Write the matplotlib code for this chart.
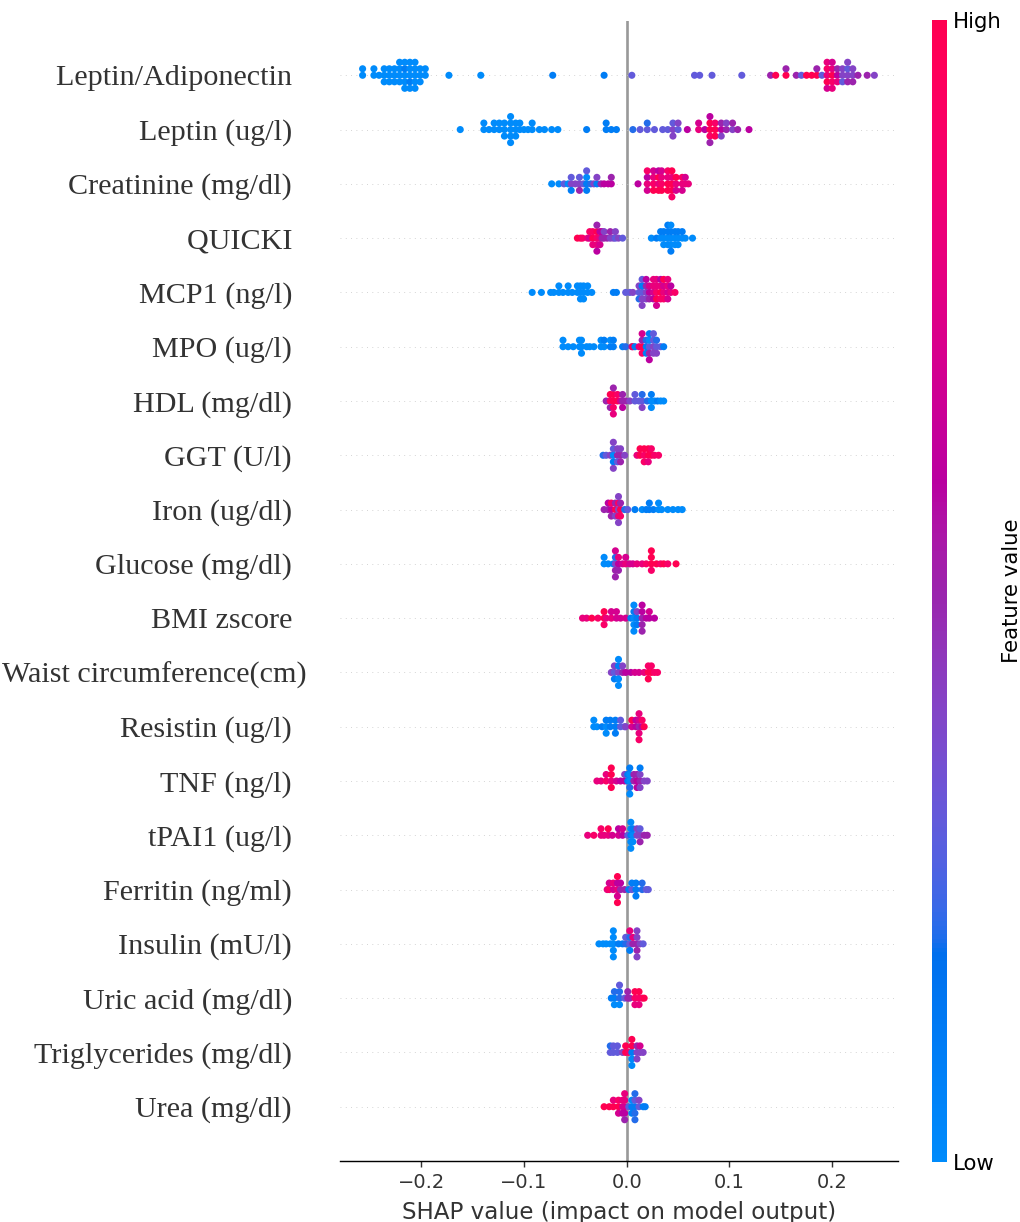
import numpy as np
import matplotlib
matplotlib.use("Agg")
import matplotlib.pyplot as plt
from matplotlib.colors import LinearSegmentedColormap

# feature names, top row first
features = [
    "Leptin/Adiponectin  ", "Leptin (ug/l)  ", "Creatinine (mg/dl)  ", "QUICKI  ",
    "MCP1 (ng/l)  ", "MPO (ug/l)  ", "HDL (mg/dl)  ", "GGT (U/l)  ", "Iron (ug/dl)  ",
    "Glucose (mg/dl)  ", "BMI zscore  ", "Waist circumference(cm)", "Resistin (ug/l)  ",
    "TNF (ng/l)  ", "tPAI1 (ug/l)  ", "Ferritin (ng/ml)  ", "Insulin (mU/l)  ",
    "Uric acid (mg/dl)  ", "Triglycerides (mg/dl)  ", "Urea (mg/dl)  ",
]

# (SHAP value x1000, feature value x10), one list per feature
leptin_adipo = [
    (-257, 0), (-257, 0), (-246, 0), (-246, 0), (-241, 0),
    (-236, 0), (-236, 0), (-236, 0), (-231, 0), (-231, 0), (-231, 0),
    (-226, 0), (-226, 0), (-226, 0), (-221, 0), (-221, 0), (-221, 0), (-221, 0),
    (-216, 0), (-216, 1), (-216, 0), (-216, 0), (-216, 0),
    (-211, 0), (-211, 0), (-211, 1), (-211, 0), (-211, 0),
    (-206, 0), (-206, 0), (-206, 0), (-206, 0), (-206, 0),
    (-201, 0), (-201, 0), (-201, 0), (-196, 0), (-196, 0),
    (-173, 0), (-142, 0), (-72, 1), (-22, 1), (5, 3), (66, 3), (71, 3), (83, 3), (112, 3),
    (140, 5), (145, 10), (155, 10), (155, 5), (165, 5), (170, 3), (175, 10), (180, 10),
    (185, 10), (185, 5), (190, 3),
    (195, 8), (195, 9), (195, 10), (195, 8), (195, 7),
    (200, 10), (200, 8), (200, 9), (200, 7), (200, 8),
    (205, 6), (205, 5), (205, 8), (210, 4), (210, 4), (210, 3),
    (215, 4), (215, 3), (215, 5), (215, 4), (220, 4), (220, 4), (220, 5),
    (225, 5), (234, 5), (241, 4),
]
leptin = [
    (-162, 0), (-139, 0), (-139, 0), (-134, 0), (-129, 0), (-129, 0), (-124, 0), (-124, 0),
    (-119, 0), (-119, 0), (-119, 0), (-113, 0), (-113, 0), (-113, 0), (-113, 0), (-113, 0),
    (-108, 0), (-108, 0), (-108, 0), (-104, 0), (-104, 0), (-100, 0), (-96, 0), (-92, 0), (-92, 0),
    (-85, 0), (-80, 0), (-73, 0), (-67, 0), (-39, 1), (-20, 1), (-20, 1), (-15, 1), (-10, 1),
    (6, 2), (13, 3), (20, 3), (20, 2), (27, 3), (35, 3), (40, 3),
    (45, 4), (45, 3), (45, 4), (50, 3), (50, 4), (59, 6), (70, 8), (70, 7), (76, 6),
    (81, 10), (81, 10), (81, 9), (81, 6), (81, 5), (86, 10), (86, 9), (86, 10),
    (92, 6), (92, 5), (92, 4), (97, 5), (97, 4), (103, 4), (103, 5), (108, 5), (119, 6),
]
creatinine = [
    (-73, 0), (-66, 0), (-61, 3), (-57, 0), (-54, 4), (-54, 3), (-54, 1), (-50, 4),
    (-46, 4), (-46, 3), (-46, 5), (-42, 3), (-39, 1), (-39, 0), (-39, 1), (-39, 3),
    (-35, 2), (-32, 4), (-29, 1), (-29, 4), (-25, 5), (-22, 6), (-18, 6), (-15, 6), (-15, 5),
    (11, 6), (20, 8), (20, 6), (20, 7), (20, 9), (26, 9), (26, 8), (26, 10), (26, 7),
    (31, 8), (31, 10), (31, 10), (31, 6), (34, 9), (34, 8), (34, 10), (34, 7),
    (40, 10), (40, 8), (40, 10), (40, 9), (44, 10), (44, 8), (44, 10), (44, 10), (44, 9),
    (48, 8), (48, 10), (48, 7), (54, 8), (54, 9), (54, 7), (57, 8), (57, 7), (60, 8),
]
quicki = [
    (-48, 10), (-45, 10), (-43, 9), (-38, 8), (-36, 7), (-36, 9), (-33, 10), (-33, 9), (-33, 8),
    (-29, 9), (-29, 10), (-29, 8), (-29, 5), (-29, 6),
    (-26, 8), (-26, 6), (-26, 7), (-24, 5), (-24, 6), (-22, 5), (-22, 4), (-19, 5),
    (-16, 4), (-16, 5), (-13, 4), (-11, 3), (-11, 4), (-8, 4), (-4, 3),
    (24, 0), (29, 1), (33, 0), (33, 1), (36, 0), (36, 1), (36, 0),
    (40, 0), (40, 1), (40, 0), (40, 1), (43, 0), (43, 1), (43, 0), (43, 0), (43, 1),
    (47, 0), (47, 1), (47, 0), (50, 0), (50, 1), (50, 0), (54, 0), (54, 1), (57, 0), (64, 0),
]
mcp1 = [
    (-92, 0), (-83, 0), (-74, 0), (-71, 0), (-66, 0), (-66, 0), (-62, 0), (-57, 0), (-57, 0),
    (-53, 0), (-48, 0), (-48, 0), (-45, 0), (-45, 0), (-45, 0), (-42, 0), (-42, 0), (-42, 0),
    (-38, 0), (-38, 0), (-34, 0), (-13, 1), (-10, 1), (-1, 3), (3, 3), (6, 4),
    (12, 3), (12, 4), (12, 2), (15, 3), (15, 1), (15, 4), (15, 3), (15, 4),
    (19, 4), (19, 5), (19, 4), (19, 6), (22, 6), (22, 7), (22, 5),
    (26, 7), (26, 8), (26, 6), (26, 8), (29, 9), (29, 8), (29, 10), (29, 8), (29, 7),
    (33, 10), (33, 8), (33, 9), (33, 6), (36, 8), (36, 7), (36, 9), (36, 10),
    (40, 7), (40, 8), (40, 7), (40, 8), (43, 8), (43, 6), (47, 9),
]
mpo = [
    (-62, 0), (-62, 0), (-57, 0), (-52, 0), (-46, 0), (-46, 0), (-44, 0), (-44, 0), (-44, 0),
    (-39, 0), (-36, 0), (-32, 0), (-25, 0), (-25, 0), (-22, 0), (-22, 1), (-16, 1), (-16, 0),
    (-13, 1), (-13, 1), (-4, 1), (-1, 2), (5, 5), (6, 10), (8, 1), (12, 8),
    (15, 10), (15, 5), (15, 9), (15, 7), (19, 1), (19, 2), (19, 1),
    (22, 3), (22, 0), (22, 5), (22, 1), (22, 6), (26, 4), (26, 3), (26, 4), (26, 3),
    (29, 3), (29, 2), (29, 4), (33, 3), (36, 1),
]
hdl = [
    (-20, 5), (-16, 9), (-16, 10), (-16, 5), (-13, 10), (-13, 10), (-13, 9), (-13, 5), (-13, 8),
    (-9, 10), (-9, 9), (-6, 7), (-4, 5), (-4, 5), (-4, 6), (-1, 5), (3, 4),
    (8, 3), (8, 3), (12, 3), (15, 3), (15, 2), (15, 4), (20, 2), (24, 0), (24, 1), (24, 0),
    (27, 0), (30, 1), (33, 0), (36, 0),
]
ggt = [
    (-23, 2), (-20, 3), (-16, 4), (-13, 0), (-13, 3), (-13, 1), (-13, 4), (-13, 4),
    (-9, 5), (-9, 4), (-9, 3), (-6, 5), (-6, 4), (-6, 5), (-2, 4),
    (10, 8), (13, 10), (13, 10), (17, 9), (17, 10), (17, 9), (21, 10), (21, 10), (21, 8),
    (24, 10), (24, 9), (27, 9), (31, 9),
]
iron = [
    (-22, 5), (-18, 5), (-18, 6), (-15, 6), (-15, 9), (-15, 5), (-11, 10), (-11, 5), (-11, 4),
    (-8, 4), (-8, 9), (-8, 8), (-8, 4), (-8, 4), (-6, 10), (-6, 5), (-6, 9), (-2, 2), (1, 3),
    (8, 1), (15, 0), (19, 1), (22, 1), (22, 1), (26, 1), (31, 0), (31, 0), (34, 0),
    (40, 0), (45, 0), (50, 0), (54, 0),
]
glucose = [
    (-22, 0), (-22, 0), (-18, 0), (-13, 1), (-11, 4), (-11, 2), (-11, 5), (-11, 7), (-11, 5),
    (-8, 6), (-8, 8), (-8, 5), (-4, 7), (-1, 8), (-1, 7), (3, 7), (6, 7),
    (10, 8), (15, 8), (19, 9), (24, 10), (24, 10), (24, 9), (24, 10), (29, 10), (33, 9),
    (36, 10), (40, 9), (48, 10),
]
bmi = [
    (-43, 8), (-39, 8), (-34, 10), (-28, 9), (-22, 10), (-22, 10), (-22, 9), (-20, 8),
    (-15, 8), (-15, 7), (-10, 7), (-10, 7), (-6, 7), (-1, 7),
    (4, 1), (7, 0), (7, 1), (7, 0), (7, 0), (7, 0), (10, 1), (10, 4), (10, 1),
    (15, 5), (15, 6), (15, 5), (15, 6), (15, 5), (19, 6), (22, 6), (22, 7), (27, 6),
]
waist = [
    (-15, 4), (-12, 3), (-12, 4), (-12, 1), (-8, 4), (-8, 1), (-8, 0), (-8, 0), (-8, 0),
    (-4, 5), (-4, 4), (-1, 6), (4, 6), (8, 7), (12, 7),
    (17, 8), (21, 10), (21, 9), (21, 10), (24, 10), (24, 9), (27, 9), (30, 9),
]
resistin = [
    (-32, 0), (-32, 0), (-29, 0), (-24, 1), (-20, 0), (-20, 1), (-20, 0), (-16, 1), (-16, 1),
    (-11, 1), (-11, 1), (-11, 1), (-6, 3), (-6, 3), (-2, 3), (-1, 4),
    (5, 7), (5, 10), (9, 6), (9, 6), (12, 5), (12, 7), (12, 8), (12, 8), (12, 9),
    (15, 6), (15, 9), (17, 10),
]
tnf = [
    (-29, 8), (-25, 8), (-20, 9), (-20, 8), (-15, 8), (-15, 10), (-15, 10), (-15, 10),
    (-10, 7), (-6, 6), (-2, 6), (-2, 4), (1, 1), (1, 1), (3, 0), (3, 0), (3, 2), (3, 1), (3, 0),
    (7, 5), (7, 5), (10, 6), (10, 5), (10, 6), (13, 5), (13, 4), (13, 4), (13, 1), (17, 4), (20, 4),
]
tpai1 = [
    (-38, 8), (-32, 9), (-25, 8), (-25, 9), (-22, 8), (-18, 8), (-18, 10), (-14, 7),
    (-8, 7), (-8, 6), (-4, 6), (-4, 7), (1, 3), (4, 1), (4, 0), (4, 0), (4, 0), (4, 0),
    (6, 0), (6, 1), (6, 0), (10, 4), (10, 4), (13, 4), (13, 3), (13, 5), (17, 5), (20, 5),
]
ferritin = [
    (-19, 8), (-17, 9), (-17, 7), (-13, 7), (-13, 8), (-9, 8), (-9, 6), (-9, 7), (-9, 10), (-9, 10),
    (-6, 5), (-6, 6), (-2, 5), (2, 1), (5, 3), (5, 1), (9, 1), (9, 1), (9, 1),
    (15, 2), (15, 2), (19, 3), (21, 3),
]
insulin = [
    (-27, 0), (-23, 0), (-20, 0), (-16, 0), (-13, 0), (-13, 0), (-13, 0), (-13, 0), (-13, 0),
    (-8, 1), (-4, 1), (-1, 2), (-1, 3), (3, 3), (3, 2), (3, 1), (3, 8), (6, 5), (6, 8),
    (10, 5), (10, 4), (10, 5), (10, 4), (10, 4), (13, 4), (16, 3),
]
uric_acid = [
    (-15, 1), (-12, 1), (-12, 2), (-12, 0), (-7, 2), (-7, 2), (-7, 0), (-7, 3), (-2, 3),
    (1, 5), (1, 5), (3, 5), (8, 9), (8, 10), (8, 8), (12, 9), (12, 10), (12, 8), (15, 9), (17, 10),
]
triglycerides = [
    (-16, 3), (-16, 2), (-13, 3), (-13, 3), (-9, 3), (-9, 3), (-4, 4), (-1, 10), (-1, 10),
    (2, 9), (5, 1), (5, 10), (5, 0), (5, 10), (5, 0),
    (10, 4), (10, 5), (10, 4), (13, 4), (13, 7), (16, 4),
]
urea = [
    (-22, 10), (-17, 10), (-13, 10), (-13, 8), (-8, 10), (-8, 9), (-8, 7), (-4, 7), (-4, 8), (-4, 6),
    (-2, 7), (-2, 8), (-2, 6), (-2, 8), (-2, 5), (2, 3), (5, 1), (5, 0), (5, 1),
    (8, 1), (8, 3), (8, 2), (8, 2), (8, 2), (12, 3), (12, 4), (16, 1), (18, 1),
]

rows = [leptin_adipo, leptin, creatinine, quicki, mcp1, mpo, hdl, ggt, iron, glucose,
        bmi, waist, resistin, tnf, tpai1, ferritin, insulin, uric_acid, triglycerides, urea]


def lch2rgb(l, c, h):
    # CIE LCh -> sRGB (D65)
    a, b = c * np.cos(h), c * np.sin(h)
    fy = (l + 16) / 116
    fx, fz = fy + a / 500, fy - b / 200
    finv = lambda t: t ** 3 if t > 6 / 29 else 3 * (6 / 29) ** 2 * (t - 4 / 29)
    xyz = np.array([0.95047 * finv(fx), finv(fy), 1.08883 * finv(fz)])
    m = np.array([[3.2406, -1.5372, -0.4986],
                  [-0.9689, 1.8758, 0.0415],
                  [0.0557, -0.2040, 1.0570]])
    rgb = m @ xyz
    rgb = np.where(rgb > 0.0031308, 1.055 * np.abs(rgb) ** (1 / 2.4) - 0.055, 12.92 * rgb)
    return np.clip(rgb, 0, 1)


# shap's red_blue map
blue_lch = [54., 70., 4.6588]
red_lch = [54., 90., 0.35470565 + 2 * np.pi]
l_vals = list(np.linspace(blue_lch[0], 40., 50)) + list(np.linspace(40., red_lch[0], 50))
c_vals = np.linspace(blue_lch[1], red_lch[1], 100)
h_vals = np.linspace(blue_lch[2], red_lch[2], 100)
cmap = LinearSegmentedColormap.from_list(
    "red_blue", [lch2rgb(l, c, h) for l, c, h in zip(l_vals, c_vals, h_vals)])


def swarm_offsets(x, row_height=0.4, nbins=100):
    quant = np.round(nbins * (x - x.min()) / (x.max() - x.min() + 1e-8))
    ys = np.zeros(len(x))
    layer, last = 0, None
    for i in np.argsort(quant, kind="stable"):
        if quant[i] != last:
            layer = 0
        ys[i] = np.ceil(layer / 2) * ((layer % 2) * 2 - 1)
        layer += 1
        last = quant[i]
    return ys * 0.9 * (row_height / np.max(ys + 1))


DPI = 127.5
fig = plt.figure(figsize=(1020 / DPI, 1222 / DPI), dpi=DPI)
ax = fig.add_axes([340 / 1020, 61 / 1222, 558 / 1020, 1140 / 1222])

n = len(features)
ax.axvline(0, color="#999999", zorder=-1)
for k, pts in enumerate(rows):
    pos = n - 1 - k
    ax.axhline(pos, color="#cccccc", lw=0.5, dashes=(1, 5), zorder=-1)
    shaps = np.array([p[0] for p in pts]) / 1000
    vals = np.array([p[1] for p in pts]) / 10
    ys = swarm_offsets(shaps)
    ax.scatter(shaps, pos + ys, c=vals, cmap=cmap, vmin=0, vmax=1, s=16,
               linewidth=0, zorder=3)

ax.set_xlim(-0.279, 0.264)
ax.set_ylim(-1, n)
ax.set_yticks(range(n))
ax.set_yticklabels(features[::-1], fontsize=17,
                   family=["Liberation Serif", "DejaVu Serif"])
ax.set_xticks([-0.2, -0.1, 0.0, 0.1, 0.2])
ax.xaxis.set_ticks_position("bottom")
for side in ["top", "left", "right"]:
    ax.spines[side].set_visible(False)
ax.tick_params(color="#333333", labelcolor="#333333")
ax.tick_params("y", length=0, pad=18.6)
ax.tick_params("x", labelsize=11)
ax.set_xlabel("SHAP value (impact on model output)", fontsize=13, color="#333333",
              labelpad=5)

cax = fig.add_axes([932 / 1020, 60 / 1222, 15 / 1020, 1142 / 1222])
sm = plt.cm.ScalarMappable(cmap=cmap, norm=plt.Normalize(0, 1))
cb = fig.colorbar(sm, cax=cax, ticks=[0, 1])
cb.set_ticklabels(["Low", "High"])
cb.ax.tick_params(labelsize=12, length=0)
cb.set_label("Feature value", size=12, labelpad=0)
cb.outline.set_visible(False)

fig.savefig("out.png", dpi=DPI)
